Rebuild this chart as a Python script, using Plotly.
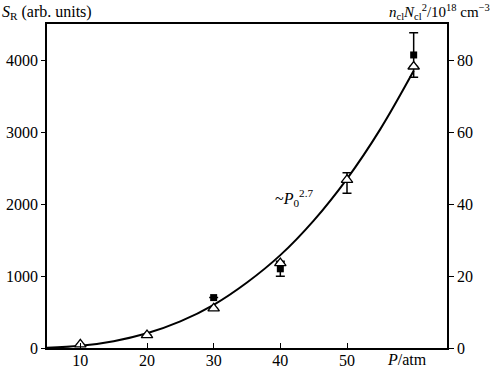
import plotly.graph_objects as go

# Data
p_tri = [10, 20, 30, 40, 50, 60]
s_tri = [50, 180, 550, 1180, 2335, 3910]
tri_err_plus = [0, 0, 0, 0, 100, 0]
tri_err_minus = [0, 0, 0, 0, 185, 0]

p_sq = [30, 40, 60]
s_sq = [700, 1100, 4070]
sq_err = [0, 105, 310]

p_fit = [5, 10, 15, 20, 25, 30, 35, 40, 45, 50, 55, 60]
s_fit = [5, 30, 95, 205, 370, 600, 910, 1290, 1770, 2350, 3040, 3850]

x_ticks = [10, 20, 30, 40, 50]
y_ticks = [0, 1000, 2000, 3000, 4000]
y2_ticks = [0, 20, 40, 60, 80]

FONT = "Liberation Serif, Times New Roman, serif"

fig = go.Figure()
fig.add_trace(go.Scatter(x=p_fit, y=s_fit, mode="lines", line=dict(color="black", width=2, shape="spline"),
                         showlegend=False, hoverinfo="skip"))
fig.add_trace(go.Scatter(x=p_sq, y=s_sq, mode="markers",
                         marker=dict(symbol="square", size=7, color="black"),
                         error_y=dict(type="data", array=sq_err, visible=True, color="black", thickness=1.5, width=4.5),
                         showlegend=False))
fig.add_trace(go.Scatter(x=p_tri, y=s_tri, mode="markers",
                         marker=dict(symbol="triangle-up", size=10, color="white", line=dict(color="black", width=1.3)),
                         error_y=dict(type="data", symmetric=False, array=tri_err_plus, arrayminus=tri_err_minus,
                                      visible=True, color="black", thickness=1.5, width=4.5),
                         showlegend=False))
# invisible trace to activate right axis
fig.add_trace(go.Scatter(x=[5], y=[0], yaxis="y2", mode="markers", marker=dict(opacity=0), showlegend=False,
                         hoverinfo="skip"))

tickfont = dict(family=FONT, size=16, color="black")
fig.update_layout(
    width=493, height=369,
    margin=dict(l=47, r=46, t=24, b=21, autoexpand=False),
    paper_bgcolor="white", plot_bgcolor="white",
    font=dict(family=FONT, size=15, color="black"),
    xaxis=dict(range=[5, 65], tickvals=x_ticks, ticks="inside", ticklen=5, tickwidth=1.2, tickcolor="black",
               showline=True, linecolor="black", linewidth=1.5, mirror=True, showgrid=False, zeroline=False,
               tickfont=tickfont, automargin=False, ticklabelstandoff=-3),
    yaxis=dict(range=[0, 4500], tickvals=y_ticks, ticks="outside", ticklen=4, tickwidth=1.2, tickcolor="black",
               showline=True, linecolor="black", linewidth=1.5, showgrid=False, zeroline=False,
               tickfont=tickfont, automargin=False),
    yaxis2=dict(range=[0, 90], tickvals=y2_ticks, overlaying="y", side="right", ticks="outside", ticklen=5,
                tickwidth=1.2, tickcolor="black", showline=True, linecolor="black", linewidth=1.5,
                showgrid=False, zeroline=False, tickfont=tickfont, automargin=False),
    annotations=[
        dict(text="<i>S</i><sub>R</sub> (arb. units)", xref="paper", yref="paper", x=-0.1175, y=1.037,
             xanchor="left", yanchor="middle", showarrow=False, font=dict(family=FONT, size=16)),
        dict(text="<i>n</i><sub>cl</sub><i>N</i><sub>cl</sub><sup>2</sup>/10<sup>18</sup> cm<sup>−3</sup>",
             xref="paper", yref="paper", x=1.113, y=1.037, xanchor="right", yanchor="middle",
             showarrow=False, font=dict(family=FONT, size=15)),
        dict(text="<i>P</i>/atm", xref="paper", yref="paper", x=0.9, y=-0.034, xanchor="center",
             yanchor="middle", showarrow=False, font=dict(family=FONT, size=16)),
        dict(text="~<i>P</i><sub>0</sub><sup>2.7</sup>", x=42, y=2090, xref="x", yref="y",
             xanchor="center", yanchor="middle", showarrow=False, font=dict(family=FONT, size=16)),
    ],
)

fig.write_html("out.html", config={"displayModeBar": False},
               post_script="document.body.style.margin='0';document.body.style.overflow='hidden';")
